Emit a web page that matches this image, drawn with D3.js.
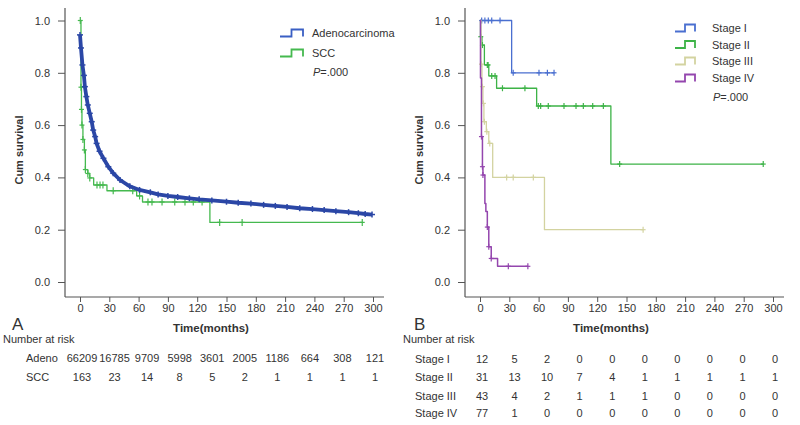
<!DOCTYPE html>
<html><head><meta charset="utf-8">
<script src="https://cdn.jsdelivr.net/npm/d3@7"></script>
<style>
body{margin:0;background:#fff}
svg text{font-family:"Liberation Sans",Arial,sans-serif;fill:#333;font-size:11px}
</style>
</head><body>
<svg id="c" width="800" height="425"></svg>
<script>
// ---------- shared ticks ----------
const xTicks = [0,30,60,90,120,150,180,210,240,270,300];
const yTicks = [0.0,0.2,0.4,0.6,0.8,1.0];

// ---------- Panel A: histology ----------
const adenoTime = [0,1,2.5,4,5,6.5,8,10,12,13.5,15.5,17,20,24,29,34,41,51,61,72,80,90,100,112,122,135,150,162,175,188,200,212,225,238,250,262,275,285,292,299];
const adenoSurv = [0.945,0.895,0.83,0.79,0.747,0.709,0.677,0.645,0.613,0.581,0.556,0.53,0.50,0.473,0.441,0.416,0.39,0.366,0.352,0.343,0.335,0.329,0.325,0.320,0.316,0.312,0.307,0.303,0.300,0.295,0.291,0.287,0.282,0.279,0.275,0.271,0.267,0.263,0.260,0.258];
const adenoEnd = 299;

const sccTime = [0,1,1.5,2,3,4.5,5.5,8,10,14,27.6,58,64,133];
const sccSurv = [1.0,0.745,0.66,0.60,0.545,0.505,0.43,0.415,0.398,0.371,0.349,0.329,0.306,0.228];
const sccCensor = [0.3,1,1.5,2,3,4.5,5.5,8,10,17.4,20.5,23.5,34,54,61,69.6,73.7,84,97,107.5,116,125,143,166,289];
const sccEnd = 289;

const riskLabelsA = ["Adeno","SCC"];
const riskAdeno = [66209,16785,9709,5998,3601,2005,1186,664,308,121];
const riskSCC = [163,23,14,8,5,2,1,1,1,1];

// ---------- Panel B: stage ----------
const st1Time = [0,32.4];
const st1Surv = [1.0,0.8];
const st1Censor = [1.7,5,8.5,12,20.5,34,60.4,69,75.8];
const st1End = 75.8;

const st2Time = [0,0.5,2,4.5,9,17,58,134];
const st2Surv = [1.0,0.938,0.906,0.83,0.788,0.741,0.673,0.451];
const st2Censor = [0.8,2.5,7.5,8.3,12,15.4,23,46,59.7,62.1,69.9,86,98.3,105.8,115.4,126.3,143,290];
const st2End = 290;

const st3Time = [0,1,2,3,4,6.5,9,13,66];
const st3Surv = [1.0,0.833,0.747,0.683,0.613,0.575,0.53,0.40,0.20];
const st3Censor = [1.5,2.5,3.5,4.5,7,10,27.3,34,54.6,167];
const st3End = 167;

const st4Time = [0,0.5,1.5,2.5,3,5,6,7.5,9,11.5,18];
const st4Surv = [1.0,0.78,0.556,0.441,0.409,0.30,0.27,0.21,0.135,0.09,0.06];
const st4Censor = [1.5,2.5,3,7.5,9,11.5,29,49];
const st4End = 49;

const riskLabelsB = ["Stage I","Stage II","Stage III","Stage IV"];
const riskI = [12,5,2,0,0,0,0,0,0,0];
const riskII = [31,13,10,7,4,1,1,1,1,1];
const riskIII = [43,4,2,1,1,1,0,0,0,0];
const riskIV = [77,1,0,0,0,0,0,0,0,0];

// ---------- drawing ----------
const svg = d3.select("#c");
const AXC = "#555";

function surv(times, survs, t){
  let s = survs[0];
  for(let i=0;i<times.length;i++){ if(times[i] <= t) s = survs[i]; }
  return s;
}

function panel(ox, opts){
  const g = svg.append("g").attr("transform",`translate(${ox},0)`);
  const x = d3.scaleLinear().domain([0,300]).range([80,373]);
  const y = d3.scaleLinear().domain([0,1]).range([282,20.5]);

  g.append("line").attr("x1",65).attr("x2",65).attr("y1",8).attr("y2",297).attr("stroke",AXC).attr("stroke-width",1.2);
  g.append("line").attr("x1",65).attr("x2",384).attr("y1",297).attr("y2",297).attr("stroke",AXC).attr("stroke-width",1.2);

  const ya = g.append("g").attr("transform","translate(65,0)")
    .call(d3.axisLeft(y).tickValues(yTicks).tickFormat(d3.format(".1f")).tickSize(7).tickPadding(8));
  ya.select(".domain").remove();
  ya.selectAll("line").attr("stroke",AXC);
  ya.selectAll("text").style("font-size","11px").attr("fill","#333");

  const xa = g.append("g").attr("transform","translate(0,297)")
    .call(d3.axisBottom(x).tickValues(xTicks).tickFormat(d3.format("d")).tickSize(5).tickPadding(2));
  xa.select(".domain").remove();
  xa.selectAll("line").attr("stroke",AXC);
  xa.selectAll("text").style("font-size","11px").attr("fill","#333");

  g.append("text").attr("transform","translate(23,150) rotate(-90)").attr("text-anchor","middle")
    .style("font-weight","bold").text("Cum survival");
  g.append("text").attr("x",211).attr("y",332).attr("text-anchor","middle")
    .style("font-weight","bold").style("font-size","11.5px").text("Time(months)");
  g.append("text").attr("x",opts.letterX).attr("y",330).style("font-size","17px").text(opts.letter);
  g.append("text").attr("x",3).attr("y",343).text("Number at risk");

  opts.series.forEach(s=>{
    const line = d3.line().curve(s.smooth ? d3.curveLinear : d3.curveStepAfter).x(d=>x(d[0])).y(d=>y(d[1]));
    const pts = s.time.map((t,i)=>[t,s.surv[i]]);
    pts.push([s.end, s.surv[s.surv.length-1]]);
    g.append("path").attr("d",line(pts)).attr("fill","none").attr("stroke",s.color)
      .attr("stroke-width",s.width).attr("stroke-linejoin","round");
    const cg = g.append("g").attr("stroke",s.color).attr("stroke-width",s.markW || 1.2);
    s.censor.forEach((t,i)=>{
      const cx = x(t), cy = y(s.smooth ? s.surv[i] : surv(s.time,s.surv,t));
      cg.append("line").attr("x1",cx).attr("x2",cx).attr("y1",cy-s.mark).attr("y2",cy+s.mark);
      cg.append("line").attr("x1",cx-s.markH).attr("x2",cx+s.markH).attr("y1",cy).attr("y2",cy);
    });
  });

  const lg = g.append("g");
  opts.legend.forEach((L,i)=>{
    const ly = opts.legY[i];
    lg.append("path").attr("d",`M${opts.legX},${ly+3.5} H${opts.legX+opts.legW/2} V${ly-3.5} H${opts.legX+opts.legW} V${ly+3.5}`)
      .attr("fill","none").attr("stroke",L.color).attr("stroke-width",1.8);
    lg.append("text").attr("x",opts.legTX).attr("y",ly+4).text(L.name);
  });
  const pt = lg.append("text").attr("x",opts.legTX+1).attr("y",opts.pY+4);
  pt.append("tspan").style("font-style","italic").text("P");
  pt.append("tspan").text("=.000");

  const rx = d3.scalePoint().domain(d3.range(10)).range([82,375]);
  opts.risk.forEach((row,ri)=>{
    const ry = opts.riskY[ri];
    g.append("text").attr("x",opts.riskLX).attr("y",ry+4).text(opts.riskLabels[ri]);
    row.forEach((v,i)=>{
      g.append("text").attr("x",rx(i)).attr("y",ry+4).attr("text-anchor","middle").text(v);
    });
  });
}

panel(0,{
  letter:"A", letterX:12,
  series:[
    {time:sccTime, surv:sccSurv, end:sccEnd, censor:sccCensor, color:"#45b94f", width:1.3, mark:3.5, markH:2.5},
    {time:adenoTime, surv:adenoSurv, end:adenoEnd, censor:adenoTime, smooth:true, color:"#2b47a6", width:3.8, mark:3, markH:3, markW:1.5}
  ],
  legend:[{name:"Adenocarcinoma",color:"#3a5fc4"},{name:"SCC",color:"#45b94f"}],
  legX:280, legW:23, legTX:312, legY:[33,53], pY:72,
  risk:[riskAdeno,riskSCC], riskLabels:riskLabelsA, riskY:[358,377], riskLX:26
});

panel(400,{
  letter:"B", letterX:14,
  series:[
    {time:st1Time, surv:st1Surv, end:st1End, censor:st1Censor, color:"#4a6fd0", width:1.3, mark:3, markH:2.5},
    {time:st2Time, surv:st2Surv, end:st2End, censor:st2Censor, color:"#3db347", width:1.3, mark:3, markH:2.5},
    {time:st3Time, surv:st3Surv, end:st3End, censor:st3Censor, color:"#d3d3a0", width:1.3, mark:3, markH:2.5},
    {time:st4Time, surv:st4Surv, end:st4End, censor:st4Censor, color:"#9446ae", width:1.5, mark:3, markH:2.5}
  ],
  legend:[{name:"Stage I",color:"#4a6fd0"},{name:"Stage II",color:"#3db347"},{name:"Stage III",color:"#d3d3a0"},{name:"Stage IV",color:"#9446ae"}],
  legX:275, legW:20, legTX:312, legY:[28,44.5,61,78], pY:97,
  risk:[riskI,riskII,riskIII,riskIV], riskLabels:riskLabelsB, riskY:[359,377,396,413], riskLX:15
});
</script>
</body></html>
